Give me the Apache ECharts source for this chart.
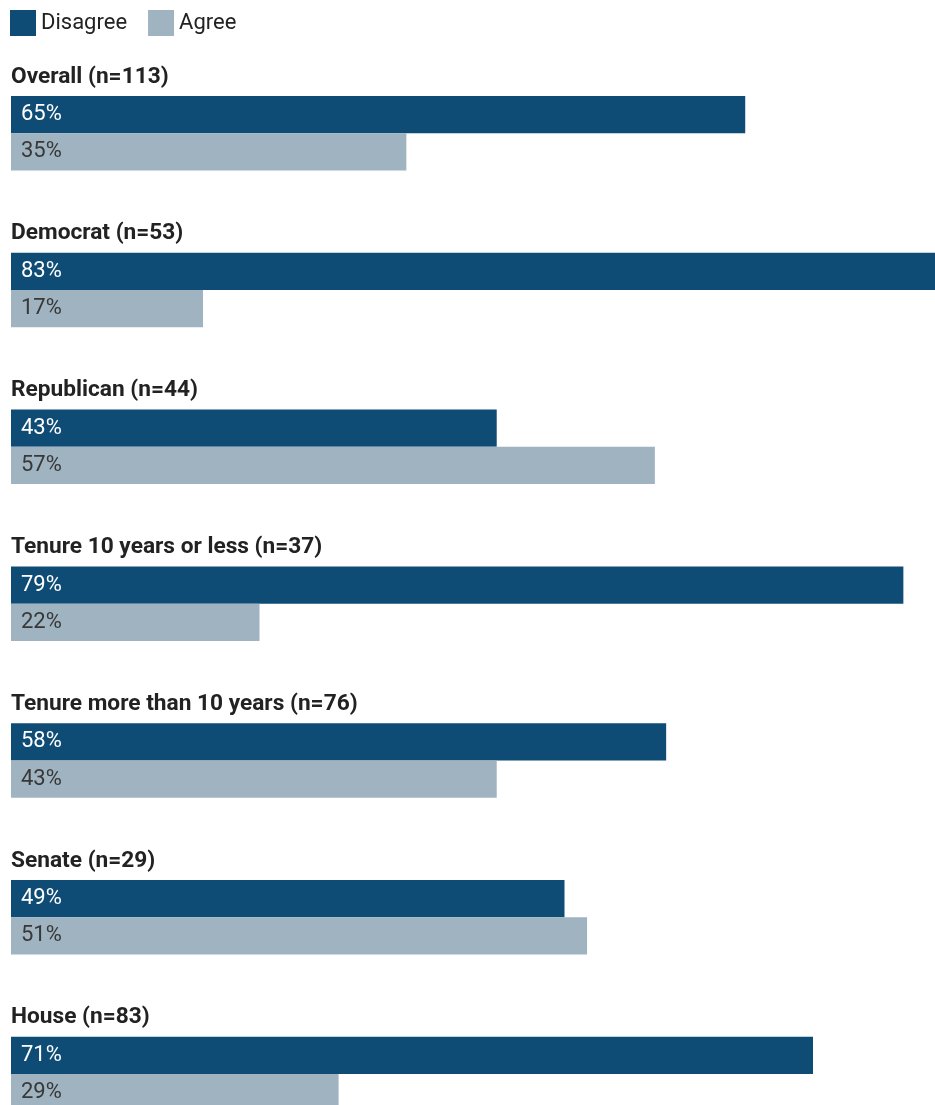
<!DOCTYPE html>
<html>
<head>
<meta charset="utf-8">
<script src="https://cdn.jsdelivr.net/npm/echarts@6/dist/echarts.min.js"></script>
<style>
html,body{margin:0;padding:0;background:#fff;}
#chart{width:935px;height:1105px;}
</style>
</head>
<body>
<div id="chart"></div>
<script>
const categories = [
  "Overall (n=113)",
  "Democrat (n=53)",
  "Republican (n=44)",
  "Tenure 10 years or less (n=37)",
  "Tenure more than 10 years (n=76)",
  "Senate (n=29)",
  "House (n=83)"
];
const disagree = [65, 83, 43, 79, 58, 49, 71];
const agree = [35, 17, 57, 22, 43, 51, 29];
const seriesNames = ["Disagree", "Agree"];

const DARK = "#0f4c75";
const LIGHT = "#9fb3c1";
const FONT = "Roboto, 'Noto Sans', sans-serif";

const chart = echarts.init(document.getElementById("chart"));

const step = 156.8;
const BAR = 37.25;
const grids = [], xAxes = [], yAxes = [], series = [], titles = [];
categories.forEach((cat, i) => {
  const top = 96 + step * i;
  grids.push({ left: 11, right: 0, top: top, height: BAR * 2, containLabel: false, outerBoundsMode: "none" });
  xAxes.push({ gridIndex: i, type: "value", min: 0, max: 81.8, show: false });
  yAxes.push({ gridIndex: i, type: "category", inverse: true, data: [cat], show: false });
  titles.push({
    text: cat, left: 11, top: top - 32, padding: 0,
    textStyle: { fontFamily: FONT, fontSize: 22.7, fontWeight: "bold", color: "#222", lineHeight: 26 }
  });
  series.push({
    name: seriesNames[0], type: "bar", xAxisIndex: i, yAxisIndex: i,
    data: [disagree[i]], barGap: "0%", barWidth: BAR,
    itemStyle: { color: DARK }, silent: true, clip: false,
    label: { show: true, position: "insideLeft", distance: 10, formatter: "{c}%",
      color: "#fff", fontFamily: FONT, fontSize: 22, padding: [2, 0, 0, 0] }
  });
  series.push({
    name: seriesNames[1], type: "bar", xAxisIndex: i, yAxisIndex: i,
    data: [agree[i]], barGap: "0%", barWidth: BAR,
    itemStyle: { color: LIGHT }, silent: true, clip: false,
    label: { show: true, position: "insideLeft", distance: 10, formatter: "{c}%",
      color: "#383838", fontFamily: FONT, fontSize: 22, padding: [2, 0, 0, 0] }
  });
});

chart.setOption({
  animation: false,
  title: titles,
  legend: {
    data: seriesNames, left: 10, top: 10, padding: 0,
    itemWidth: 26, itemHeight: 26, itemGap: 21, itemTextGap: 5,
    icon: "rect",
    textStyle: { fontFamily: FONT, fontSize: 22, color: "#222" },
    selectedMode: false
  },
  grid: grids,
  xAxis: xAxes,
  yAxis: yAxes,
  series: series
});
</script>
</body>
</html>
